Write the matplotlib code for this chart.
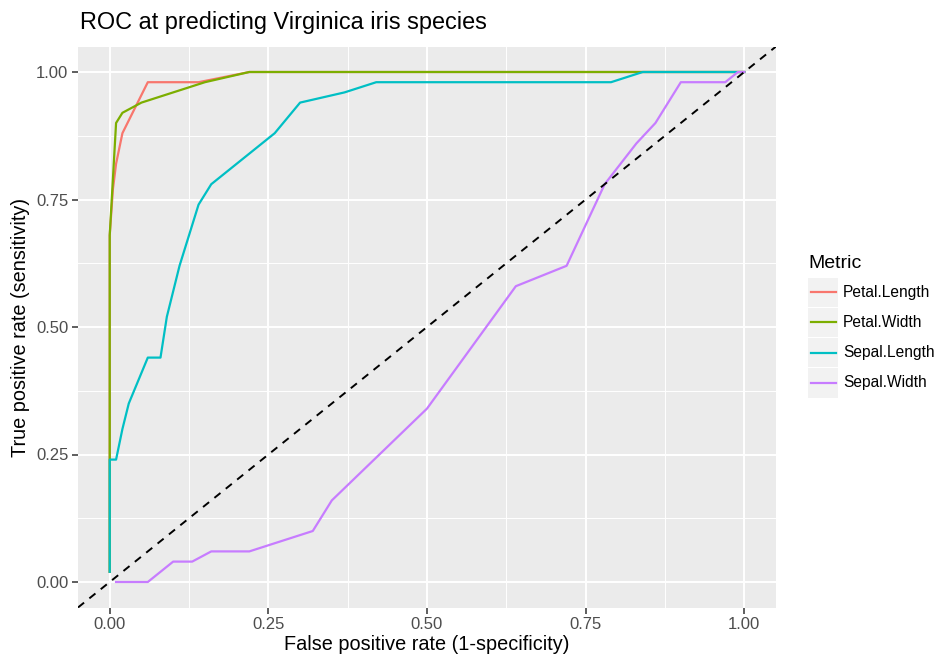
import numpy as np
import matplotlib
matplotlib.use("Agg")
from matplotlib import pyplot as plt
from matplotlib.patches import Rectangle
from matplotlib.lines import Line2D

plt.rcParams['font.family'] = ['Liberation Sans', 'DejaVu Sans']

# ROC points
metrics = ['Petal.Length', 'Petal.Width', 'Sepal.Length', 'Sepal.Width']
colors = ['#F8766D', '#7CAE00', '#00BFC4', '#C77CFF']

petal_length_fpr = [0, 0, 0.005, 0.01, 0.02, 0.04, 0.06, 0.14, 0.22, 1.0]
petal_length_tpr = [0.02, 0.68, 0.77, 0.82, 0.88, 0.93, 0.98, 0.98, 1.0, 1.0]

petal_width_fpr = [0, 0, 0, 0.01, 0.02, 0.05, 0.15, 0.22, 1.0]
petal_width_tpr = [0.02, 0.24, 0.68, 0.90, 0.92, 0.94, 0.98, 1.0, 1.0]

sepal_length_fpr = [0, 0, 0.01, 0.02, 0.03, 0.06, 0.08, 0.09, 0.11, 0.14, 0.16,
                    0.26, 0.30, 0.37, 0.42, 0.79, 0.84, 1.0]
sepal_length_tpr = [0.02, 0.24, 0.24, 0.30, 0.35, 0.44, 0.44, 0.52, 0.62, 0.74, 0.78,
                    0.88, 0.94, 0.96, 0.98, 0.98, 1.0, 1.0]

sepal_width_fpr = [0.01, 0.06, 0.10, 0.13, 0.16, 0.22, 0.32, 0.35, 0.50, 0.64, 0.72,
                   0.78, 0.83, 0.86, 0.90, 0.97, 0.99, 1.0]
sepal_width_tpr = [0.0, 0.0, 0.04, 0.04, 0.06, 0.06, 0.10, 0.16, 0.34, 0.58, 0.62,
                   0.78, 0.86, 0.90, 0.98, 0.98, 1.0, 1.0]

curves = [(petal_length_fpr, petal_length_tpr),
          (petal_width_fpr, petal_width_tpr),
          (sepal_length_fpr, sepal_length_tpr),
          (sepal_width_fpr, sepal_width_tpr)]

ticks = [0.0, 0.25, 0.5, 0.75, 1.0]
tick_labels = ['0.00', '0.25', '0.50', '0.75', '1.00']

W, H = 937, 657
fig = plt.figure(figsize=(W / 100, H / 100), dpi=100)
ax = fig.add_axes([78 / W, 1 - 607.5 / H, (776 - 78) / W, (607.5 - 46.5) / H])
ax.set_facecolor('#EBEBEB')
for s in ax.spines.values():
    s.set_visible(False)

ax.set_xlim(-0.05, 1.05)
ax.set_ylim(-0.05, 1.05)
ax.set_xticks(ticks)
ax.set_xticklabels(tick_labels)
ax.set_yticks(ticks)
ax.set_yticklabels(tick_labels)
minor = [0.125, 0.375, 0.625, 0.875]
ax.set_xticks(minor, minor=True)
ax.set_yticks(minor, minor=True)
ax.grid(which='major', color='white', linewidth=1.4)
ax.grid(which='minor', color='white', linewidth=0.7)
ax.tick_params(which='minor', length=0)
ax.tick_params(which='major', length=4, width=1.1, color='#333333',
               labelcolor='#4D4D4D', labelsize=12, pad=3)
ax.set_axisbelow(True)

for (fpr, tpr), c in zip(curves, colors):
    ax.plot(fpr, tpr, color=c, linewidth=1.6)

ax.plot([-0.05, 1.05], [-0.05, 1.05], color='black', linestyle=(0, (4, 3.5)),
        linewidth=1.4)

ax.set_xlabel('False positive rate (1-specificity)', fontsize=14.3, labelpad=2)
ax.set_ylabel('True positive rate (sensitivity)', fontsize=14.3, labelpad=4)
fig.text(80 / W, 1 - 23 / H, 'ROC at predicting Virginica iris species',
         fontsize=16.9, va='center', ha='left')

# legend drawn by hand, ggplot style
lg = fig.add_axes([0, 0, 1, 1])
lg.set_xlim(0, W)
lg.set_ylim(H, 0)
lg.axis('off')
lg.text(808, 263, 'Metric', fontsize=14, va='center', ha='left')
for i, (m, c) in enumerate(zip(metrics, colors)):
    y0 = 277 + i * 30.3
    lg.add_patch(Rectangle((808, y0 + 0.5), 30, 29.3, facecolor='#F2F2F2',
                           edgecolor='none'))
    lg.add_line(Line2D([811, 836], [y0 + 15, y0 + 15], color=c, linewidth=1.6))
    lg.text(843, y0 + 15, m, fontsize=11.2, va='center', ha='left')

fig.savefig('out.png', dpi=100)
